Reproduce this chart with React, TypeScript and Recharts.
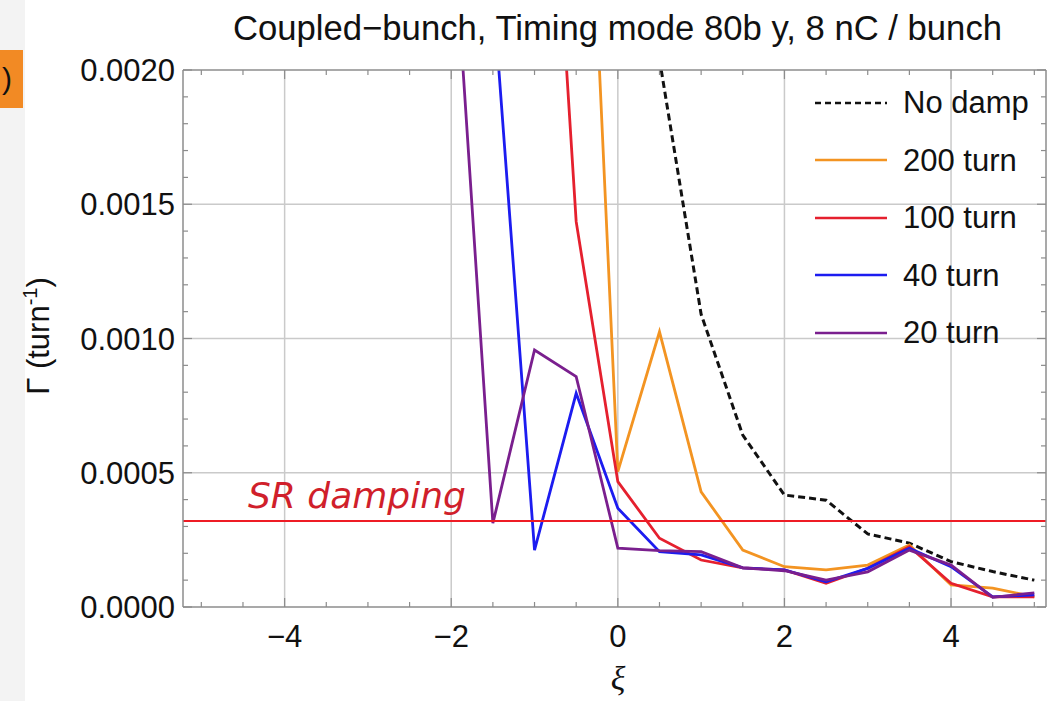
import React from "react";
import { LineChart, Line, XAxis, YAxis, ReferenceLine, Legend } from "recharts";

// ξ values (chromaticity scan)
const xi = [-2, -1.5, -1, -0.5, 0, 0.5, 1, 1.5, 2, 2.5, 3, 3.5, 4, 4.5, 5];

// growth rates, turn^-1 (null = not plotted / off scale on the left)
const noDamp = [null, null, null, null, null, 0.00204, 0.00109, 0.00064, 0.000417, 0.000398, 0.000272, 0.000238, 0.000169, 0.000132, 0.0001];
const turn200 = [null, null, null, 0.0039, 0.000504, 0.001025, 0.000429, 0.000212, 0.00015, 0.000138, 0.000156, 0.000231, 0.000082, 0.00007, 0.000038];
const turn100 = [null, null, 0.0039, 0.001435, 0.000467, 0.000256, 0.000175, 0.000146, 0.000138, 0.000088, 0.000144, 0.000225, 0.000088, 0.000038, 0.000038];
const turn40 = [null, 0.0023, 0.000212, 0.000796, 0.000368, 0.000206, 0.000194, 0.000146, 0.000138, 0.000094, 0.000144, 0.000219, 0.00015, 0.000038, 0.000045];
const turn20 = [0.00267, 0.000312, 0.000957, 0.000858, 0.000219, 0.00021, 0.000206, 0.000146, 0.000135, 0.0001, 0.000131, 0.000212, 0.000156, 0.000036, 0.000053];

const srDamping = 0.00032;

const xTicks = [-5, -4.5, -4, -3.5, -3, -2.5, -2, -1.5, -1, -0.5, 0, 0.5, 1, 1.5, 2, 2.5, 3, 3.5, 4, 4.5, 5];
const xLabeled = [-4, -2, 0, 2, 4];
const yTicks = [0, 0.0001, 0.0002, 0.0003, 0.0004, 0.0005, 0.0006, 0.0007, 0.0008, 0.0009, 0.001, 0.0011, 0.0012, 0.0013, 0.0014, 0.0015, 0.0016, 0.0017, 0.0018, 0.0019, 0.002];
const yLabeled = [0, 0.0005, 0.001, 0.0015, 0.002];

const series = [
  { key: "noDamp", name: "No damp", color: "#111111", dash: "7 4", values: noDamp },
  { key: "t200", name: "200 turn", color: "#f39422", dash: undefined, values: turn200 },
  { key: "t100", name: "100 turn", color: "#e5202e", dash: undefined, values: turn100 },
  { key: "t40", name: "40 turn", color: "#1c1cf0", dash: undefined, values: turn40 },
  { key: "t20", name: "20 turn", color: "#7a1f8e", dash: undefined, values: turn20 },
];

const rows = xi.map((x, i) => {
  const r: any = { xi: x };
  series.forEach((s) => {
    r[s.key] = s.values[i];
  });
  return r;
});

const font = "'Liberation Sans', Arial, sans-serif";
const frame = "#8c8c8c";
const grid = "#cacaca";
const tickFont = 31;

const fmtX = (v: number) => (v < 0 ? "\u2212" + Math.abs(v) : String(v));

const BottomTick = ({ x, y, payload }: any) => {
  const major = xLabeled.includes(payload.value);
  return (
    <g>
      <line x1={x} x2={x} y1={y} y2={y - (major ? 9 : 5)} stroke={frame} strokeWidth={1.2} />
      {major && (
        <text x={x} y={y + 40} textAnchor="middle" fontFamily={font} fontSize={tickFont} fill="#111">
          {fmtX(payload.value)}
        </text>
      )}
    </g>
  );
};

const TopTick = ({ x, y, payload }: any) => {
  const major = xLabeled.includes(payload.value);
  return <line x1={x} x2={x} y1={y} y2={y + (major ? 9 : 5)} stroke={frame} strokeWidth={1.2} />;
};

const LeftTick = ({ x, y, payload }: any) => {
  const major = yLabeled.includes(payload.value);
  return (
    <g>
      <line x1={x} x2={x + (major ? 9 : 5)} y1={y} y2={y} stroke={frame} strokeWidth={1.2} />
      {major && (
        <text x={x - 8} y={y + 11} textAnchor="end" fontFamily={font} fontSize={tickFont} fill="#111">
          {payload.value.toFixed(4)}
        </text>
      )}
    </g>
  );
};

const RightTick = ({ x, y, payload }: any) => {
  const major = yLabeled.includes(payload.value);
  return <line x1={x} x2={x - (major ? 9 : 5)} y1={y} y2={y} stroke={frame} strokeWidth={1.2} />;
};

const LegendBox = () => (
  <div style={{ fontFamily: font, fontSize: 31, color: "#111" }}>
    {series.map((s) => (
      <div key={s.key} style={{ display: "flex", alignItems: "center", height: 57.5 }}>
        <svg width={88} height={10} style={{ display: "block" }}>
          <line x1={0} x2={72} y1={5} y2={5} stroke={s.color} strokeWidth={2.5} strokeDasharray={s.dash ? "6 4" : undefined} />
        </svg>
        <span style={{ lineHeight: 1 }}>{s.name}</span>
      </div>
    ))}
  </div>
);

export default function App() {
  return (
    <div style={{ position: "absolute", left: 0, top: 0, width: 1054, height: 701, background: "#fff", overflow: "hidden" }}>
      <div style={{ position: "absolute", left: 0, top: 0, width: 25, height: 701, background: "#f3f3f3" }} />
      <div
        style={{
          position: "absolute", left: 0, top: 50, width: 23, height: 58, background: "#f28a24",
          fontFamily: font, fontSize: 30, display: "flex", alignItems: "center", justifyContent: "flex-start",
          paddingLeft: 2, boxSizing: "border-box", color: "#111",
        }}
      >
        )
      </div>
      <div style={{ position: "absolute", left: 0, top: 0 }}>
        <LineChart width={1054} height={701} data={rows} margin={{ top: 0, right: 0, bottom: 0, left: 0 }}>
          <XAxis xAxisId="b" dataKey="xi" type="number" domain={[-5.22, 5.14]} allowDataOverflow ticks={xTicks} interval={0}
            tickSize={0} tickMargin={0} height={94} tickLine={false} tick={(p: any) => <BottomTick {...p} />}
            axisLine={{ stroke: frame, strokeWidth: 1.5 }} />
          <XAxis xAxisId="t" orientation="top" dataKey="xi" type="number" domain={[-5.22, 5.14]} allowDataOverflow ticks={xTicks} interval={0}
            tickSize={0} tickMargin={0} height={70} tickLine={false} tick={(p: any) => <TopTick {...p} />}
            axisLine={{ stroke: frame, strokeWidth: 1.5 }} />
          <YAxis yAxisId="l" type="number" domain={[0, 0.002]} allowDataOverflow ticks={yTicks} interval={0}
            tickSize={0} tickMargin={0} width={183} tickLine={false} tick={(p: any) => <LeftTick {...p} />}
            axisLine={{ stroke: frame, strokeWidth: 1.5 }} />
          <YAxis yAxisId="r" orientation="right" type="number" domain={[0, 0.002]} allowDataOverflow ticks={yTicks} interval={0}
            tickSize={0} tickMargin={0} width={8} tickLine={false} tick={(p: any) => <RightTick {...p} />}
            axisLine={{ stroke: frame, strokeWidth: 1.5 }} />

          {xLabeled.map((v) => (
            <ReferenceLine key={"gx" + v} xAxisId="b" yAxisId="l" x={v} stroke={grid} strokeWidth={1.5} />
          ))}
          {yLabeled.slice(1, -1).map((v) => (
            <ReferenceLine key={"gy" + v} xAxisId="b" yAxisId="l" y={v} stroke={grid} strokeWidth={1.5} />
          ))}

          {series.map((s) => (
            <Line key={s.key} xAxisId="b" yAxisId="l" dataKey={s.key} name={s.name} type="linear" stroke={s.color}
              strokeWidth={s.dash ? 3 : 2.8} strokeDasharray={s.dash} dot={false} activeDot={false} isAnimationActive={false} connectNulls={false} />
          ))}

          <ReferenceLine xAxisId="b" yAxisId="l" y={srDamping} stroke="#ee1c25" strokeWidth={2}
            label={{ value: "SR damping", position: "insideBottomLeft", offset: 0, dx: 65, dy: -13, fill: "#d01f2b", fontSize: 36, fontStyle: "italic", fontFamily: "'DejaVu Sans', sans-serif" }} />

          <Legend layout="vertical" align="center" verticalAlign="middle" content={() => <LegendBox />}
            wrapperStyle={{ left: 815, top: 74, width: 240, height: 290 }} />
        </LineChart>
      </div>
      <svg width={1054} height={701} style={{ position: "absolute", left: 0, top: 0, pointerEvents: "none" }}>
        <text x={617.5} y={40} textAnchor="middle" fontFamily={font} fontSize={35} fill="#111" textLength={769} lengthAdjust="spacingAndGlyphs">
          Coupled{"\u2212"}bunch, Timing mode 80b y, 8 nC / bunch
        </text>
        <text transform="translate(49,336) rotate(-90)" textAnchor="middle" fontFamily={font} fontSize={31} fill="#111">
          Γ (turn<tspan dy={-12} fontSize={20}>-1</tspan><tspan dy={12}>)</tspan>
        </text>
        <text x={618} y={690} textAnchor="middle" fontFamily="'Liberation Serif', serif" fontStyle="italic" fontSize={34} fill="#111">
          ξ
        </text>
      </svg>
    </div>
  );
}
